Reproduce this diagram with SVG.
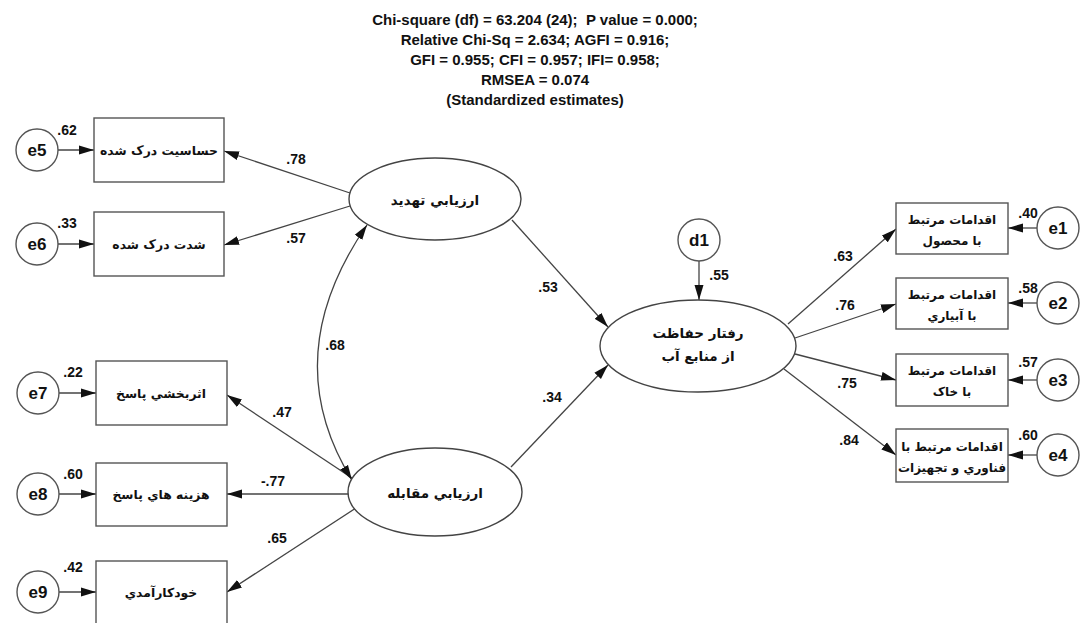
<svg xmlns="http://www.w3.org/2000/svg" width="1080" height="623" viewBox="0 0 1080 623">
<style>
.bg{fill:#fff}
.box{fill:#fff;stroke:#555;stroke-width:1.4}
.ell{fill:#fff;stroke:#444;stroke-width:1.4}
.cir{fill:#fff;stroke:#555;stroke-width:1.4}
.ln{fill:none;stroke:#444;stroke-width:1.3}
.hdr{font-family:"Liberation Sans",Arial,sans-serif;font-weight:bold;font-size:15px;fill:#111;text-anchor:middle;white-space:pre}
.num{font-family:"Liberation Sans",Arial,sans-serif;font-weight:bold;font-size:14px;fill:#111;text-anchor:middle}
.ev{font-family:"Liberation Sans",Arial,sans-serif;font-weight:bold;font-size:17px;fill:#111;text-anchor:middle}
.fa{font-family:"DejaVu Sans",sans-serif;font-weight:bold;font-size:12.4px;fill:#111;text-anchor:middle}
.far{font-family:"DejaVu Sans",sans-serif;font-weight:bold;font-size:12px;fill:#111;text-anchor:middle}
.fal{font-family:"DejaVu Sans",sans-serif;font-weight:bold;font-size:13.5px;fill:#111;text-anchor:middle}
</style>
<defs>
<marker id="ah" markerUnits="userSpaceOnUse" markerWidth="16" markerHeight="10" refX="15" refY="5" orient="auto-start-reverse">
<path d="M0,0.5 L15,5 L0,9.5 Z" fill="#111"/>
</marker>
</defs>
<rect class="bg" x="0" y="0" width="1080" height="623"/>
<g id="header">
<text class="hdr" x="535" y="25" xml:space="preserve">Chi-square (df) = 63.204 (24);  P value = 0.000;</text>
<text class="hdr" x="535" y="45">Relative Chi-Sq = 2.634; AGFI = 0.916;</text>
<text class="hdr" x="535" y="65">GFI = 0.955; CFI = 0.957; IFI= 0.958;</text>
<text class="hdr" x="535" y="85">RMSEA = 0.074</text>
<text class="hdr" x="535" y="105">(Standardized estimates)</text>
</g>
<g id="connectors">
<line class="ln" x1="58" y1="150" x2="94" y2="150" marker-end="url(#ah)"/>
<line class="ln" x1="58" y1="244" x2="94" y2="244" marker-end="url(#ah)"/>
<line class="ln" x1="59" y1="393" x2="96" y2="393" marker-end="url(#ah)"/>
<line class="ln" x1="59" y1="494" x2="96" y2="494" marker-end="url(#ah)"/>
<line class="ln" x1="59" y1="592" x2="96" y2="592" marker-end="url(#ah)"/>
<line class="ln" x1="1037" y1="228" x2="1008" y2="228" marker-end="url(#ah)"/>
<line class="ln" x1="1037" y1="303" x2="1008" y2="303" marker-end="url(#ah)"/>
<line class="ln" x1="1037" y1="380" x2="1008" y2="380" marker-end="url(#ah)"/>
<line class="ln" x1="1037" y1="455" x2="1008" y2="455" marker-end="url(#ah)"/>
<line class="ln" x1="699" y1="261" x2="699" y2="300" marker-end="url(#ah)"/>
<line class="ln" x1="350" y1="193" x2="224" y2="151" marker-end="url(#ah)"/>
<line class="ln" x1="350" y1="206" x2="224" y2="245" marker-end="url(#ah)"/>
<line class="ln" x1="352" y1="478" x2="227" y2="395" marker-end="url(#ah)"/>
<line class="ln" x1="349" y1="494" x2="227" y2="494" marker-end="url(#ah)"/>
<line class="ln" x1="356" y1="508" x2="227" y2="592" marker-end="url(#ah)"/>
<line class="ln" x1="512" y1="220" x2="608" y2="327" marker-end="url(#ah)"/>
<line class="ln" x1="511" y1="467" x2="608" y2="365" marker-end="url(#ah)"/>
<line class="ln" x1="788" y1="324" x2="896" y2="229" marker-end="url(#ah)"/>
<line class="ln" x1="795" y1="338" x2="896" y2="304" marker-end="url(#ah)"/>
<line class="ln" x1="795" y1="354" x2="896" y2="380" marker-end="url(#ah)"/>
<line class="ln" x1="784" y1="369" x2="896" y2="455" marker-end="url(#ah)"/>
<path class="ln" d="M367,225 Q276,357 352,480" marker-start="url(#ah)" marker-end="url(#ah)"/>
</g>
<g id="labels">
<text class="num" x="67" y="135">.62</text>
<text class="num" x="67" y="228">.33</text>
<text class="num" x="73" y="377">.22</text>
<text class="num" x="73" y="479">.60</text>
<text class="num" x="73" y="572">.42</text>
<text class="num" x="296" y="164">.78</text>
<text class="num" x="296" y="243">.57</text>
<text class="num" x="282" y="417">.47</text>
<text class="num" x="273" y="486">-.77</text>
<text class="num" x="277" y="543">.65</text>
<text class="num" x="335" y="350">.68</text>
<text class="num" x="548" y="292">.53</text>
<text class="num" x="552" y="402">.34</text>
<text class="num" x="719" y="280">.55</text>
<text class="num" x="843" y="261">.63</text>
<text class="num" x="845" y="310">.76</text>
<text class="num" x="847" y="388">.75</text>
<text class="num" x="849" y="445">.84</text>
<text class="num" x="1028" y="218">.40</text>
<text class="num" x="1028" y="293">.58</text>
<text class="num" x="1028" y="367">.57</text>
<text class="num" x="1028" y="440">.60</text>
</g>
<g id="e5"><circle class="cir" cx="37" cy="150" r="21"/><text class="ev" x="37" y="156">e5</text></g>
<g id="e6"><circle class="cir" cx="37" cy="244" r="21"/><text class="ev" x="37" y="250">e6</text></g>
<g id="e7"><circle class="cir" cx="38" cy="393" r="21"/><text class="ev" x="38" y="399">e7</text></g>
<g id="e8"><circle class="cir" cx="38" cy="494" r="21"/><text class="ev" x="38" y="500">e8</text></g>
<g id="e9"><circle class="cir" cx="38" cy="592" r="21"/><text class="ev" x="38" y="598">e9</text></g>
<g id="v5"><rect class="box" x="94" y="118" width="130" height="64"/><text class="fa" x="159" y="155">حساسيت درک شده</text></g>
<g id="v6"><rect class="box" x="94" y="212" width="130" height="64"/><text class="fa" x="159" y="249">شدت درک شده</text></g>
<g id="v7"><rect class="box" x="96" y="361" width="131" height="64"/><text class="fa" x="161" y="398">اثربخشي پاسخ</text></g>
<g id="v8"><rect class="box" x="96" y="463" width="131" height="63"/><text class="fa" x="161" y="499">هزينه هاي پاسخ</text></g>
<g id="v9"><rect class="box" x="96" y="561" width="131" height="64"/><text class="fa" x="161" y="597">خودکارآمدي</text></g>
<g id="threat"><ellipse class="ell" cx="435" cy="199" rx="86" ry="41"/><text class="fal" x="435" y="205">ارزيابي تهديد</text></g>
<g id="coping"><ellipse class="ell" cx="435" cy="492" rx="87" ry="44"/><text class="fal" x="435" y="498">ارزيابي مقابله</text></g>
<g id="behavior"><ellipse class="ell" cx="698" cy="346" rx="98" ry="46"/><text class="fal" x="698" y="338">رفتار حفاظت</text><text class="fal" x="698" y="361">از منابع آب</text></g>
<g id="d1"><circle class="cir" cx="699" cy="240" r="21"/><text class="ev" x="699" y="246">d1</text></g>
<g id="v1"><rect class="box" x="896" y="203" width="112" height="51"/><text class="far" x="952" y="224">اقدامات مرتبط</text><text class="far" x="952" y="245">با محصول</text></g>
<g id="v2"><rect class="box" x="896" y="278" width="112" height="51"/><text class="far" x="952" y="299">اقدامات مرتبط</text><text class="far" x="952" y="320">با آبياري</text></g>
<g id="v3"><rect class="box" x="896" y="354" width="112" height="52"/><text class="far" x="952" y="375">اقدامات مرتبط</text><text class="far" x="952" y="396">با خاک</text></g>
<g id="v4"><rect class="box" x="896" y="429" width="112" height="53"/><text class="far" x="952" y="451">اقدامات مرتبط با</text><text class="far" x="952" y="472">فناوري و تجهيزات</text></g>
<g id="e1"><circle class="cir" cx="1058" cy="228" r="21"/><text class="ev" x="1058" y="234">e1</text></g>
<g id="e2"><circle class="cir" cx="1058" cy="303" r="21"/><text class="ev" x="1058" y="309">e2</text></g>
<g id="e3"><circle class="cir" cx="1058" cy="380" r="21"/><text class="ev" x="1058" y="386">e3</text></g>
<g id="e4"><circle class="cir" cx="1058" cy="455" r="21"/><text class="ev" x="1058" y="461">e4</text></g>
</svg>
